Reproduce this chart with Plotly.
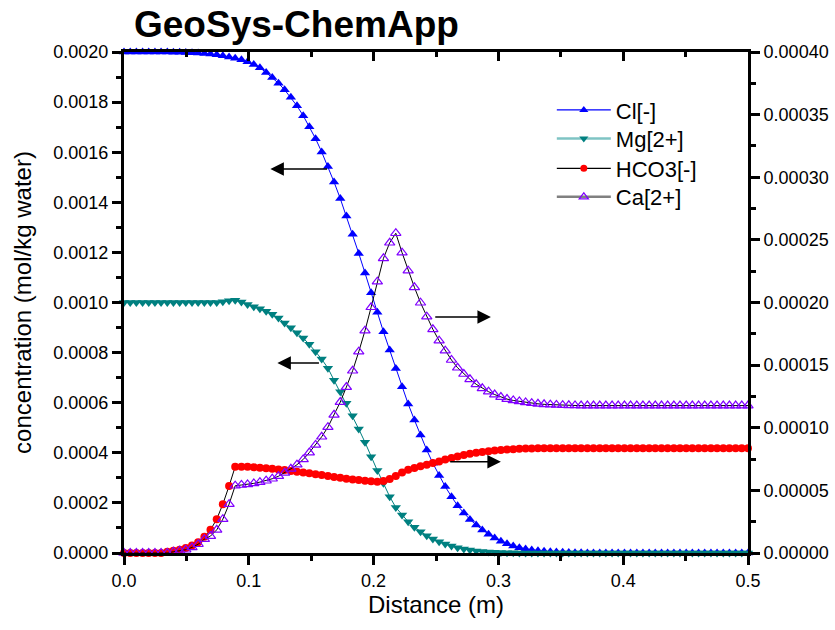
import plotly.graph_objects as go

# Distance (m)
distance = [
    0.0000, 0.0050, 0.0099, 0.0149, 0.0198, 0.0248, 0.0297, 0.0347, 0.0396, 0.0446,
    0.0495, 0.0545, 0.0594, 0.0644, 0.0693, 0.0743, 0.0792, 0.0842, 0.0891, 0.0941,
    0.0990, 0.1040, 0.1089, 0.1139, 0.1188, 0.1238, 0.1287, 0.1337, 0.1386, 0.1436,
    0.1485, 0.1535, 0.1584, 0.1634, 0.1683, 0.1733, 0.1782, 0.1832, 0.1881, 0.1931,
    0.1980, 0.2030, 0.2079, 0.2129, 0.2178, 0.2228, 0.2277, 0.2327, 0.2376, 0.2426,
    0.2475, 0.2525, 0.2574, 0.2624, 0.2673, 0.2723, 0.2772, 0.2822, 0.2871, 0.2921,
    0.2970, 0.3020, 0.3069, 0.3119, 0.3168, 0.3218, 0.3267, 0.3317, 0.3366, 0.3416,
    0.3465, 0.3515, 0.3564, 0.3614, 0.3663, 0.3713, 0.3762, 0.3812, 0.3861, 0.3911,
    0.3960, 0.4010, 0.4059, 0.4109, 0.4158, 0.4208, 0.4257, 0.4307, 0.4356, 0.4406,
    0.4455, 0.4505, 0.4554, 0.4604, 0.4653, 0.4703, 0.4752, 0.4802, 0.4851, 0.4901,
    0.4950, 0.5000,
]

# Cl[-] (left axis, mol/kg water)
cl = [
    0.002000, 0.002000, 0.002000, 0.002000, 0.002000, 0.002000, 0.002000, 0.002000, 0.001999, 0.001999,
    0.001998, 0.001997, 0.001996, 0.001994, 0.001992, 0.001989, 0.001985, 0.001980, 0.001975, 0.001969,
    0.001961, 0.001950, 0.001937, 0.001918, 0.001898, 0.001875, 0.001849, 0.001819, 0.001785, 0.001746,
    0.001702, 0.001654, 0.001601, 0.001543, 0.001481, 0.001415, 0.001345, 0.001272, 0.001196, 0.001118,
    0.001039, 0.000961, 0.000883, 0.000810, 0.000737, 0.000664, 0.000595, 0.000531, 0.000471, 0.000411,
    0.000358, 0.000309, 0.000265, 0.000225, 0.000189, 0.000160, 0.000134, 0.000112, 0.000092, 0.000075,
    0.000060, 0.000047, 0.000037, 0.000028, 0.000021, 0.000016, 0.000012, 0.000009, 0.000007, 0.000005,
    0.000004, 0.000003, 0.000002, 0.000001, 0.000001, 0.0, 0.0, 0.0, 0.0, 0.0,
    0.0, 0.0, 0.0, 0.0, 0.0, 0.0, 0.0, 0.0, 0.0, 0.0,
    0.0, 0.0, 0.0, 0.0, 0.0, 0.0, 0.0, 0.0, 0.0, 0.0,
    0.0, 0.0,
]

# Mg[2+] (left axis)
mg = [
    0.001000, 0.001000, 0.001000, 0.001000, 0.001000, 0.001000, 0.001000, 0.001000, 0.001000, 0.001000,
    0.001000, 0.001000, 0.001000, 0.001000, 0.001000, 0.001000, 0.001003, 0.001007, 0.001009, 0.001002,
    0.000992, 0.000983, 0.000975, 0.000965, 0.000953, 0.000938, 0.000918, 0.000899, 0.000879, 0.000858,
    0.000833, 0.000803, 0.000774, 0.000738, 0.000690, 0.000644, 0.000598, 0.000548, 0.000495, 0.000442,
    0.000384, 0.000329, 0.000278, 0.000225, 0.000182, 0.000152, 0.000125, 0.000103, 0.000085, 0.000069,
    0.000056, 0.000045, 0.000036, 0.000028, 0.000021, 0.000016, 0.000012, 0.000008, 0.000006, 0.000004,
    0.000003, 0.000002, 0.000001, 0.000001, 0.0, 0.0, 0.0, 0.0, 0.0, 0.0,
    0.0, 0.0, 0.0, 0.0, 0.0, 0.0, 0.0, 0.0, 0.0, 0.0,
    0.0, 0.0, 0.0, 0.0, 0.0, 0.0, 0.0, 0.0, 0.0, 0.0,
    0.0, 0.0, 0.0, 0.0, 0.0, 0.0, 0.0, 0.0, 0.0, 0.0,
    0.0, 0.0,
]

# HCO3[-] (right axis)
hco3 = [
    0.0, 0.0, 0.0, 0.0, 0.0, 0.0, 0.0, 0.0000010, 0.0000018, 0.0000026,
    0.0000040, 0.0000060, 0.0000085, 0.0000130, 0.0000185, 0.0000270, 0.0000390, 0.0000535, 0.0000689, 0.0000689,
    0.0000688, 0.0000684, 0.0000680, 0.0000676, 0.0000672, 0.0000667, 0.0000662, 0.0000655, 0.0000649, 0.0000643,
    0.0000636, 0.0000628, 0.0000622, 0.0000614, 0.0000607, 0.0000600, 0.0000593, 0.0000587, 0.0000582, 0.0000577,
    0.0000572, 0.0000569, 0.0000574, 0.0000590, 0.0000615, 0.0000643, 0.0000664, 0.0000679, 0.0000692, 0.0000705,
    0.0000718, 0.0000731, 0.0000746, 0.0000759, 0.0000771, 0.0000782, 0.0000792, 0.0000800, 0.0000807, 0.0000813,
    0.0000818, 0.0000822, 0.0000826, 0.0000829, 0.0000832, 0.0000834, 0.0000835, 0.0000836, 0.0000836, 0.0000836,
    0.0000836, 0.0000836, 0.0000836, 0.0000836, 0.0000836, 0.0000836, 0.0000836, 0.0000836, 0.0000836, 0.0000836,
    0.0000836, 0.0000836, 0.0000836, 0.0000836, 0.0000836, 0.0000836, 0.0000836, 0.0000836, 0.0000836, 0.0000836,
    0.0000836, 0.0000836, 0.0000836, 0.0000836, 0.0000836, 0.0000836, 0.0000836, 0.0000836, 0.0000836, 0.0000836,
    0.0000836, 0.0000836,
]

# Ca[2+] (right axis)
ca = [
    0.0, 0.0, 0.0, 0.0, 0.0, 0.0, 0.0, 0.0, 0.0000010, 0.0000018,
    0.0000026, 0.0000045, 0.0000070, 0.0000110, 0.0000135, 0.0000185, 0.0000270, 0.0000390, 0.0000537, 0.0000543,
    0.0000548, 0.0000556, 0.0000566, 0.0000577, 0.0000593, 0.0000613, 0.0000640, 0.0000672, 0.0000705, 0.0000747,
    0.0000802, 0.0000863, 0.0000928, 0.0001005, 0.0001103, 0.0001205, 0.0001325, 0.0001455, 0.0001607, 0.0001775,
    0.0001962, 0.0002166, 0.0002353, 0.0002477, 0.0002553, 0.0002398, 0.0002254, 0.0002121, 0.0001998, 0.0001887,
    0.0001786, 0.0001695, 0.0001615, 0.0001541, 0.0001479, 0.0001429, 0.0001387, 0.0001347, 0.0001315, 0.0001288,
    0.0001265, 0.0001245, 0.0001229, 0.0001218, 0.0001210, 0.0001202, 0.0001196, 0.0001191, 0.0001187, 0.0001184,
    0.0001182, 0.0001180, 0.0001179, 0.0001178, 0.0001177, 0.0001177, 0.0001177, 0.0001177, 0.0001177, 0.0001177,
    0.0001177, 0.0001177, 0.0001177, 0.0001177, 0.0001177, 0.0001177, 0.0001177, 0.0001177, 0.0001177, 0.0001177,
    0.0001177, 0.0001177, 0.0001177, 0.0001177, 0.0001177, 0.0001177, 0.0001177, 0.0001177, 0.0001177, 0.0001177,
    0.0001177, 0.0001177,
]

series_names = ["Cl[-]", "Mg[2+]", "HCO3[-]", "Ca[2+]"]

for arr in (cl, mg, hco3, ca):
    assert len(arr) == len(distance), (len(arr), len(distance))

FONT = "Arial, Liberation Sans, Helvetica, sans-serif"

fig = go.Figure()

# data traces
fig.add_trace(go.Scatter(x=distance, y=cl, mode="lines+markers", showlegend=False,
                         line=dict(color="#0000FF", width=1),
                         marker=dict(symbol="triangle-up", size=9, color="#0000FF"),
                         cliponaxis=False))
fig.add_trace(go.Scatter(x=distance, y=mg, mode="lines+markers", showlegend=False,
                         line=dict(color="#008080", width=1),
                         marker=dict(symbol="triangle-down", size=9, color="#008080"),
                         cliponaxis=False))
fig.add_trace(go.Scatter(x=distance, y=hco3, yaxis="y2", mode="lines+markers", showlegend=False,
                         line=dict(color="black", width=1),
                         marker=dict(symbol="circle", size=8, color="#FF0000"),
                         cliponaxis=False))
fig.add_trace(go.Scatter(x=distance, y=ca, yaxis="y2", mode="lines+markers", showlegend=False,
                         line=dict(color="black", width=1),
                         marker=dict(symbol="triangle-up-open", size=9, color="#8000FF",
                                     line=dict(width=1.2, color="#8000FF")),
                         cliponaxis=False))

# legend entries (each in its own legend box so the row spacing can match)
legend_styles = [
    dict(line=dict(color="#0000FF", width=1.2), marker=dict(symbol="triangle-up", size=8, color="#0000FF")),
    dict(line=dict(color="#7FC4C4", width=2.5), marker=dict(symbol="triangle-down", size=8, color="#008080")),
    dict(line=dict(color="black", width=1.2), marker=dict(symbol="circle", size=7, color="#FF0000")),
    dict(line=dict(color="#808080", width=2.5), marker=dict(symbol="triangle-up-open", size=8, color="#8000FF",
                                                          line=dict(width=1.2, color="#8000FF"))),
]
legend_ids = ["legend", "legend2", "legend3", "legend4"]
legend_rows_y = [0.884, 0.827, 0.7675, 0.7105]
for name, st, lid in zip(series_names, legend_styles, legend_ids):
    fig.add_trace(go.Scatter(x=[None], y=[None], mode="lines+markers", name=name, legend=lid, **st))

# dummy trace to carry the top mirror axis
fig.add_trace(go.Scatter(x=[None], y=[None], xaxis="x2", yaxis="y", showlegend=False,
                         hoverinfo="skip", mode="markers"))

axis_common = dict(showline=True, linewidth=3, linecolor="black", showgrid=False, zeroline=False,
                   tickcolor="black", tickwidth=3, ticklen=9, automargin=False)

legend_common = dict(x=0.6856, xanchor="left", yanchor="middle", font=dict(size=22),
                     bgcolor="rgba(0,0,0,0)", itemwidth=54)

fig.update_layout(
    width=835, height=630,
    margin=dict(l=124, r=87, t=52, b=77),
    paper_bgcolor="white", plot_bgcolor="white",
    font=dict(family=FONT, color="black", size=18),
    title=dict(text="<b>GeoSys-ChemApp</b>", font=dict(size=37, family=FONT, color="black"),
               xref="container", x=134 / 835, xanchor="left",
               yref="container", y=1 - 24 / 630, yanchor="middle"),
    xaxis=dict(range=[0, 0.5], tick0=0, dtick=0.1, tickformat=".1f", ticks="outside",
               minor=dict(dtick=0.05, ticks="outside", ticklen=5, tickwidth=3, tickcolor="black"),
               title=dict(text="Distance (m)", font=dict(size=24), standoff=5), tickfont=dict(size=18),
               **axis_common),
    xaxis2=dict(range=[0, 0.5], overlaying="x", side="top", anchor="y", tick0=0, dtick=0.1,
                ticks="inside", showticklabels=False,
                minor=dict(dtick=0.05, ticks="inside", ticklen=5, tickwidth=3, tickcolor="black"),
                **axis_common),
    yaxis=dict(range=[0, 0.002], tick0=0, dtick=0.0002, tickformat=".4f", ticks="outside",
               minor=dict(dtick=0.0001, ticks="outside", ticklen=5, tickwidth=3, tickcolor="black"),
               title=dict(text="concentration (mol/kg water)", font=dict(size=24), standoff=15),
               tickfont=dict(size=18), **axis_common),
    yaxis2=dict(range=[0, 0.0004], overlaying="y", side="right", anchor="x", tick0=0, dtick=0.00005,
                tickformat=".5f", ticks="outside",
                minor=dict(dtick=0.000025, ticks="outside", ticklen=5, tickwidth=3, tickcolor="black"),
                tickfont=dict(size=18), **axis_common),
)
layout_legends = {lid: dict(y=ly, **legend_common) for lid, ly in zip(legend_ids, legend_rows_y)}
fig.update_layout(**layout_legends)

arrow_common = dict(xref="x", yref="y", axref="x", ayref="y", showarrow=True, text="",
                    arrowhead=2, arrowsize=1.8, arrowwidth=1.5, arrowcolor="black")
arrows = [
    (0.1173, 0.001533, 0.1639, 0.001533),   # Cl -> left axis
    (0.1229, 0.000758, 0.1574, 0.000758),   # Mg -> left axis
    (0.2940, 0.000942, 0.2482, 0.000942),   # Ca -> right axis
    (0.3020, 0.000364, 0.2602, 0.000364),   # HCO3 -> right axis
]
fig.update_layout(annotations=[dict(x=x, y=y, ax=ax, ay=ay, **arrow_common) for x, y, ax, ay in arrows])

fig.write_html("out.html", config={"displayModeBar": False},
               post_script="document.body.style.margin='0px';document.body.style.padding='0px';")
